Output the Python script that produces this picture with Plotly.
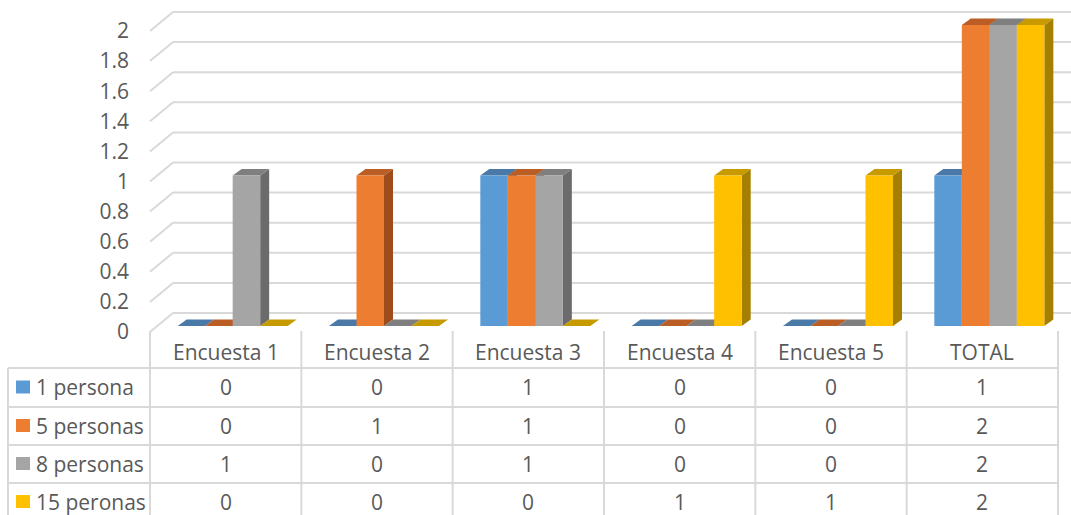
import plotly.graph_objects as go

# ---------------- data ----------------
categories = ["Encuesta 1", "Encuesta 2", "Encuesta 3", "Encuesta 4", "Encuesta 5", "TOTAL"]
series_names = ["1 persona", "5 personas", "8 personas", "15 peronas"]
s_1_persona = [0, 0, 1, 0, 0, 1]
s_5_personas = [0, 1, 1, 0, 0, 2]
s_8_personas = [1, 0, 1, 0, 0, 2]
s_15_peronas = [0, 0, 0, 1, 1, 2]
y_ticks = [0, 0.2, 0.4, 0.6, 0.8, 1, 1.2, 1.4, 1.6, 1.8, 2]
y_tick_labels = ["0", "0.2", "0.4", "0.6", "0.8", "1", "1.2", "1.4", "1.6", "1.8", "2"]

series_values = [s_1_persona, s_5_personas, s_8_personas, s_15_peronas]

# ---------------- styles ----------------
W, H = 1071, 515
front_colors = ["#5B9BD5", "#ED7D31", "#A5A5A5", "#FFC000"]
top_colors = ["#4A79A8", "#BA5E25", "#7F7F7F", "#C79A00"]
side_colors = ["#3F6891", "#9E4C1C", "#6B6B6B", "#A47F00"]
grid_color = "#D9D9D9"
text_color = "#595959"
FONT = "Open Sans"
FS = 21

def px_x(p):
    return p / W

def px_y(p):
    return 1 - p / H

# axis geometry (pixels)
X_LEFT, X_RIGHT = 150, 1058          # table columns / floor front
COLW = (X_RIGHT - X_LEFT) / len(categories)
FRONT_SHIFT = 7 / COLW               # bars sit slightly right of column centre
Y_ZERO_PX = 326
PX_PER_UNIT = 150.5
y_range = [-(H - Y_ZERO_PX) / PX_PER_UNIT, Y_ZERO_PX / PX_PER_UNIT]
x_range = [-0.5 - FRONT_SHIFT, len(categories) - 0.5 - FRONT_SHIFT]

BARGAP = 0.273
bw = (1 - BARGAP) / len(series_names)
DX = 9 / COLW
DY = 6.5 / PX_PER_UNIT
BACK_DY = 13 / PX_PER_UNIT
FRONT_DY = -6 / PX_PER_UNIT

fig = go.Figure()

# --- 3D faces (top & side) on the base subplot ---
for j, (name, vals) in enumerate(zip(series_names, series_values)):
    off = (j - (len(series_names) - 1) / 2) * bw
    tx, ty, sx, sy = [], [], [], []
    for i, v in enumerate(vals):
        xl = i + off - bw / 2
        xr = i + off + bw / 2
        tx += [xl, xr, xr + DX, xl + DX, xl, None]
        ty += [v, v, v + DY, v + DY, v, None]
        if v > 0:
            sx += [xr, xr, xr + DX, xr + DX, xr, None]
            sy += [0, v, v + DY, DY, 0, None]
    fig.add_trace(go.Scatter(x=sx, y=sy, mode="lines", fill="toself",
                             fillcolor=side_colors[j], line=dict(width=0),
                             hoverinfo="skip", showlegend=False, xaxis="x", yaxis="y"))
    fig.add_trace(go.Scatter(x=tx, y=ty, mode="lines", fill="toself",
                             fillcolor=top_colors[j], line=dict(width=0),
                             hoverinfo="skip", showlegend=False, xaxis="x", yaxis="y"))

# --- front faces of bars on the overlaying subplot ---
for j, (name, vals) in enumerate(zip(series_names, series_values)):
    fig.add_trace(go.Bar(x=list(range(len(categories))), y=vals, name=name,
                         marker=dict(color=front_colors[j], line=dict(width=0)),
                         showlegend=False, xaxis="x2", yaxis="y2"))

shapes = []
# back wall gridlines + side wall diagonals
for v in y_ticks:
    shapes.append(dict(type="line", xref="paper", yref="y", layer="below",
                       x0=px_x(173), x1=1, y0=v + BACK_DY, y1=v + BACK_DY,
                       line=dict(color=grid_color, width=2)))
    shapes.append(dict(type="line", xref="paper", yref="y", layer="below",
                       x0=px_x(X_LEFT), x1=px_x(173), y0=v + FRONT_DY, y1=v + BACK_DY,
                       line=dict(color=grid_color, width=2)))

# data table
row_lines = [368, 407, 445, 483]
for r in row_lines:
    shapes.append(dict(type="line", xref="paper", yref="paper",
                       x0=px_x(8), x1=px_x(X_RIGHT), y0=px_y(r), y1=px_y(r),
                       line=dict(color=grid_color, width=2)))
shapes.append(dict(type="line", xref="paper", yref="paper",
                   x0=px_x(8), x1=px_x(8), y0=px_y(368), y1=0,
                   line=dict(color=grid_color, width=2)))
for k in range(len(categories) + 1):
    xp = X_LEFT + k * COLW
    shapes.append(dict(type="line", xref="paper", yref="paper",
                       x0=px_x(xp), x1=px_x(xp), y0=px_y(331), y1=0,
                       line=dict(color=grid_color, width=2)))

annotations = []
row_centers = [387, 425.5, 463.5, 501.5]
for k, cat in enumerate(categories):
    xc = X_LEFT + (k + 0.5) * COLW
    annotations.append(dict(text=cat, x=px_x(xc), y=px_y(352), xref="paper", yref="paper",
                            showarrow=False, xanchor="center", yanchor="middle",
                            font=dict(family=FONT, size=FS, color=text_color)))
    for j, vals in enumerate(series_values):
        annotations.append(dict(text=str(vals[k]), x=px_x(xc), y=px_y(row_centers[j]),
                                xref="paper", yref="paper", showarrow=False,
                                xanchor="center", yanchor="middle",
                                font=dict(family=FONT, size=FS, color=text_color)))
for j, name in enumerate(series_names):
    yc = row_centers[j]
    shapes.append(dict(type="rect", xref="paper", yref="paper",
                       x0=px_x(16), x1=px_x(30), y0=px_y(yc - 6.5), y1=px_y(yc + 6.5),
                       fillcolor=front_colors[j], line=dict(width=0)))
    annotations.append(dict(text=name, x=px_x(34), y=px_y(yc), xref="paper", yref="paper",
                            showarrow=False, xanchor="left", yanchor="middle",
                            font=dict(family=FONT, size=FS, color=text_color)))

fig.update_layout(
    width=W, height=H,
    margin=dict(l=0, r=0, t=0, b=0),
    paper_bgcolor="white", plot_bgcolor="rgba(0,0,0,0)",
    barmode="group", bargap=BARGAP, bargroupgap=0,
    xaxis=dict(domain=[px_x(X_LEFT), px_x(X_RIGHT)], range=x_range, visible=False,
               fixedrange=True),
    yaxis=dict(domain=[0, 1], range=y_range, showgrid=False, zeroline=False,
               showline=False, ticks="", tickmode="array", tickvals=y_ticks,
               ticktext=y_tick_labels, ticklabelshift=6, ticklabelstandoff=20,
               tickfont=dict(family=FONT, size=FS, color=text_color)),
    xaxis2=dict(domain=[px_x(X_LEFT), px_x(X_RIGHT)], range=x_range, visible=False,
                overlaying="x", anchor="y2"),
    yaxis2=dict(domain=[0, 1], range=y_range, visible=False, overlaying="y", anchor="x2"),
    shapes=shapes,
    annotations=annotations,
)

fig.write_html("out.html")
